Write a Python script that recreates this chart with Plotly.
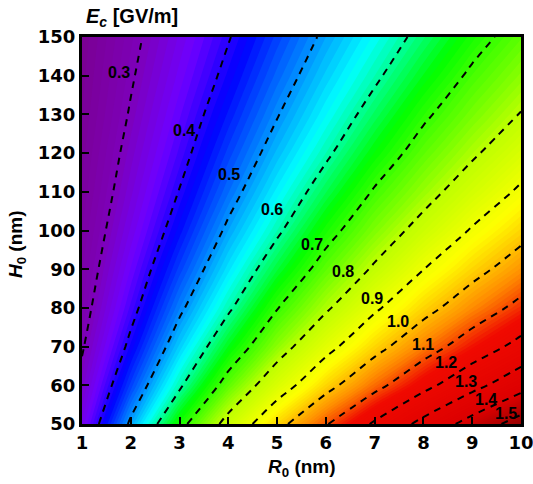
import plotly.graph_objects as go

# Axes data (nm)
R_nm = [1, 2, 3, 4, 5, 6, 7, 8, 9, 10]
H_nm = [50, 60, 70, 80, 90, 100, 110, 120, 130, 140, 150]

Ec_H50 = [0.342, 0.510, 0.676, 0.828, 0.973, 1.094, 1.212, 1.328, 1.437, 1.542]
Ec_H60 = [0.315, 0.454, 0.590, 0.728, 0.855, 0.973, 1.075, 1.173, 1.271, 1.365]
Ec_H70 = [0.295, 0.413, 0.533, 0.651, 0.763, 0.874, 0.973, 1.061, 1.145, 1.229]
Ec_H80 = [0.280, 0.383, 0.489, 0.590, 0.697, 0.789, 0.888, 0.973, 1.050, 1.124]
Ec_H90 = [0.269, 0.361, 0.454, 0.546, 0.638, 0.728, 0.810, 0.899, 0.973, 1.042]
Ec_H100 = [0.260, 0.342, 0.425, 0.510, 0.590, 0.676, 0.753, 0.828, 0.907, 0.973]
Ec_H110 = [0.252, 0.327, 0.402, 0.479, 0.554, 0.629, 0.706, 0.772, 0.843, 0.913]
Ec_H120 = [0.246, 0.315, 0.383, 0.454, 0.523, 0.590, 0.661, 0.728, 0.789, 0.855]
Ec_H130 = [0.240, 0.304, 0.368, 0.432, 0.497, 0.559, 0.623, 0.689, 0.747, 0.803]
Ec_H140 = [0.236, 0.295, 0.354, 0.413, 0.474, 0.533, 0.590, 0.651, 0.711, 0.763]
Ec_H150 = [0.232, 0.287, 0.342, 0.397, 0.454, 0.510, 0.563, 0.618, 0.676, 0.728]

Ec = [Ec_H50, Ec_H60, Ec_H70, Ec_H80, Ec_H90, Ec_H100,
      Ec_H110, Ec_H120, Ec_H130, Ec_H140, Ec_H150]

# Contour levels and their label texts
levels = [0.3, 0.4, 0.5, 0.6, 0.7, 0.8, 0.9, 1.0, 1.1, 1.2, 1.3, 1.4, 1.5]
level_labels = ["0.3", "0.4", "0.5", "0.6", "0.7", "0.8", "0.9",
                "1.0", "1.1", "1.2", "1.3", "1.4", "1.5"]

x_ticks = [1, 2, 3, 4, 5, 6, 7, 8, 9, 10]
y_ticks = [50, 60, 70, 80, 90, 100, 110, 120, 130, 140, 150]

z_lo, z_hi = 0.22, 1.54
rainbow = [
    [0.000, "rgb(122,0,140)"],
    [0.061, "rgb(125,0,185)"],
    [0.106, "rgb(110,0,255)"],
    [0.152, "rgb(0,0,255)"],
    [0.197, "rgb(0,110,255)"],
    [0.258, "rgb(0,255,255)"],
    [0.333, "rgb(0,255,0)"],
    [0.440, "rgb(190,255,0)"],
    [0.538, "rgb(255,255,0)"],
    [0.629, "rgb(255,140,0)"],
    [0.705, "rgb(240,10,0)"],
    [0.894, "rgb(220,0,0)"],
    [1.000, "rgb(150,0,0)"],
]

label_family = "Liberation Sans, Arial, sans-serif"
tick_family = "DejaVu Sans, sans-serif"

fig = go.Figure()

# Filled colour map (many fine bands)
fig.add_trace(go.Contour(
    x=R_nm, y=H_nm, z=Ec,
    colorscale=rainbow, zmin=z_lo, zmax=z_hi, zauto=False,
    autocontour=False,
    contours=dict(start=0.20, end=1.56, size=0.01, coloring="fill"),
    line=dict(width=0),
    showscale=False, hoverinfo="skip",
))

# Dashed contour lines
fig.add_trace(go.Contour(
    x=R_nm, y=H_nm, z=Ec,
    autocontour=False,
    contours=dict(start=levels[0], end=levels[-1], size=0.1, coloring="none"),
    line=dict(color="black", width=2, dash="7px,6px", smoothing=1.0),
    showscale=False, hoverinfo="skip",
))

axis_common = dict(
    showline=True, linewidth=3, linecolor="black", mirror=True,
    ticks="inside", ticklen=7, tickwidth=2, tickcolor="black",
    showgrid=False, zeroline=False, automargin=False,
    ticklabeloverflow="allow",
    tickfont=dict(family=tick_family, size=18, color="black", weight="bold"),
)

# Horizontal level labels placed beside each dashed line (R0, H0 in data units)
label_spots = [(1.76, 140.7), (3.09, 125.8), (4.01, 114.4), (4.89, 105.4),
               (5.71, 96.4), (6.35, 89.4), (6.94, 82.5), (7.48, 76.5),
               (7.99, 70.6), (8.46, 66.0), (8.87, 61.1), (9.28, 56.4),
               (9.69, 52.6)]
annotations = []
for txt, (lx, ly) in zip(level_labels, label_spots):
    annotations.append(dict(
        text=txt, x=lx, y=ly, xref="x", yref="y", showarrow=False,
        xanchor="center", yanchor="middle",
        font=dict(family=label_family, size=16, color="black", weight="bold"),
    ))

title_font = dict(family=label_family, size=20, color="black", weight="bold")
annotations += [
    dict(text="<i>E<sub>c</sub></i> [GV/m]", xref="paper", yref="paper",
         x=0.005, y=1, xanchor="left", yanchor="bottom", yshift=5,
         showarrow=False, font=title_font),
    dict(text="<i>R</i><sub>0</sub> (nm)", xref="paper", yref="paper",
         x=0.5, y=-0.114, xanchor="center", yanchor="middle",
         showarrow=False, font=dict(family=label_family, size=19, color="black", weight="bold")),
    dict(text="<i>H</i><sub>0</sub> (nm)", xref="paper", yref="paper",
         x=-0.148, y=0.465, xanchor="center", yanchor="middle", textangle=-90,
         showarrow=False, font=dict(family=label_family, size=19, color="black", weight="bold")),
]

fig.update_layout(
    width=533, height=484,
    margin=dict(l=82, r=12, t=37, b=60),
    paper_bgcolor="white", plot_bgcolor="white",
    showlegend=False,
    xaxis=dict(range=[1, 10], tickvals=x_ticks, **axis_common),
    yaxis=dict(range=[50, 150], tickvals=y_ticks, **axis_common),
    annotations=annotations,
)

# Remove the default page margin so the 533x484 figure fills the window exactly.
fig.write_html("out.html",
               config={"displayModeBar": False},
               post_script="document.body.style.margin='0';document.body.style.overflow='hidden';")
